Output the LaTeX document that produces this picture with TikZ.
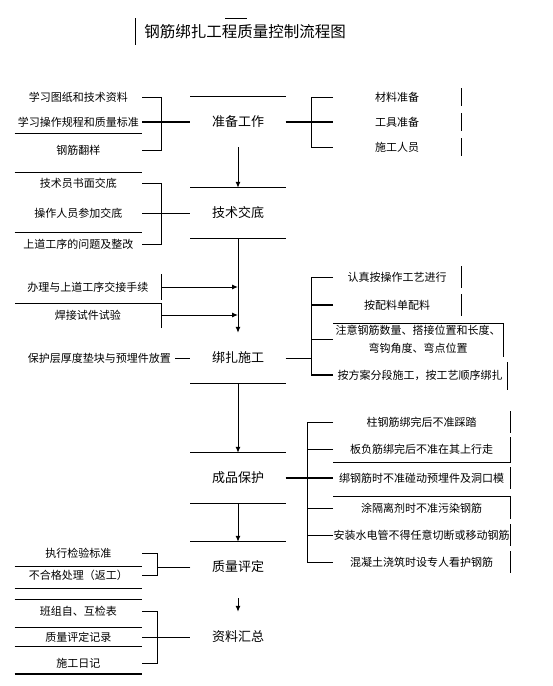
\documentclass[tikz,border=0pt]{standalone}
\usepackage{fontspec}
\setmainfont{Noto Sans CJK SC}
\usetikzlibrary{arrows.meta}

\begin{document}
\begin{tikzpicture}[
    x=1pt, y=-1pt,
    font=\fontsize{11}{13}\selectfont,
    stage/.style={
        minimum width=95pt,
        minimum height=50pt,
        inner sep=0pt,
        font=\fontsize{13}{15}\selectfont
    },
    leftitem/.style={
        anchor=east,
        minimum width=127pt,
        inner sep=0pt
    },
    rightitem/.style={
        anchor=west,
        minimum width=128pt,
        inner sep=0pt,
        align=center
    },
    wideitem/.style={
        rightitem,
        minimum width=177pt
    },
    rule/.style={
        draw,
        line width=0.8pt
    },
    thickrule/.style={
        draw,
        line width=1.6pt
    },
    flow/.style={
        draw,
        line width=1pt,
        -{Latex[length=6pt,width=5pt]}
    }
]
\useasboundingbox (0,0) rectangle (553,686);

% --- Title ---
\node[font=\fontsize{15.5}{17}\selectfont] (title) at (245,32) {钢筋绑扎工程质量控制流程图};
\draw[rule] ([xshift=-5pt,yshift=14pt]title.west) -- ([xshift=-5pt,yshift=-13pt]title.west);
\draw[rule] ([xshift=-20pt,yshift=3pt]title.north) -- ([xshift=2pt,yshift=3pt]title.north);

% --- Main stages (centre column) ---
\node[stage] (prep) at (238,122) {准备工作};
\node[stage] (brief) at (238,213) {技术交底};
\node[stage] (tying) at (238,358) {绑扎施工};
\node[stage] (protect) at (238,478) {成品保护};
\node[stage] (assess) at (238,567) {质量评定};
\node[stage] (archive) at (238,637) {资料汇总};

% visible box edges
\draw[rule] (prep.north west) -- (prep.north east);
\draw[rule] (brief.north west) -- (brief.north east);
\draw[rule] (brief.south west) -- (brief.south east);
\draw[rule] (tying.south west) -- (tying.south east);
\draw[rule] (protect.north west) -- (protect.north east);
\draw[rule] (protect.south west) -- (protect.south east);
\draw[rule] (assess.north west) -- (assess.north east);

% --- Left inputs ---
\node[leftitem] (study) at (142,97) {学习图纸和技术资料};
\node[leftitem] (rules) at (142,122) {学习操作规程和质量标准};
\node[leftitem] (layout) at (142,150) {钢筋翻样};

\node[leftitem] (writBrief) at (142,183) {技术员书面交底};
\node[leftitem] (workBrief) at (142,213) {操作人员参加交底};
\node[leftitem] (prevIssue) at (142,244) {上道工序的问题及整改};

\node[leftitem, minimum width=146pt] (handover) at (161,287) {办理与上道工序交接手续};
\node[leftitem, minimum width=146pt] (weldTest) at (161,315) {焊接试件试验};
\node[anchor=east, inner sep=0pt] (cover) at (171,358) {保护层厚度垫块与预埋件放置};

\node[leftitem] (inspStd) at (142,553) {执行检验标准};
\node[leftitem] (rework) at (142,575) {不合格处理（返工）};

\node[leftitem] (selfCheck) at (142,611) {班组自、互检表};
\node[leftitem] (assessRec) at (142,637) {质量评定记录};
\node[leftitem] (siteLog) at (142,663) {施工日记};

% --- Right measures ---
\node[rightitem] (matPrep) at (333,97) {材料准备};
\node[rightitem] (toolPrep) at (333,122) {工具准备};
\node[rightitem] (staff) at (333,147) {施工人员};

\node[rightitem] (process) at (333,277) {认真按操作工艺进行};
\node[rightitem] (batch) at (333,305) {按配料单配料};
\node[rightitem, minimum width=170pt, font=\fontsize{11}{18}\selectfont] (notice) at (333,339) {注意钢筋数量、搭接位置和长度、\\弯钩角度、弯点位置};
\node[rightitem, minimum width=174pt] (sequence) at (333,375) {按方案分段施工，按工艺顺序绑扎};

\node[wideitem] (column) at (333,422) {柱钢筋绑完后不准踩踏};
\node[wideitem] (slab) at (333,449) {板负筋绑完后不准在其上行走};
\node[wideitem] (embed) at (333,478) {绑钢筋时不准碰动预埋件及洞口模};
\node[wideitem] (release) at (333,508) {涂隔离剂时不准污染钢筋};
\node[wideitem] (pipes) at (333,535) {安装水电管不得任意切断或移动钢筋};
\node[wideitem] (guard) at (333,562) {混凝土浇筑时设专人看护钢筋};

% --- Main flow ---
\draw[flow] (prep) -- (brief);
\draw[flow] (brief) -- (tying);
\draw[flow] (tying) -- (protect);
\draw[flow] (protect) -- (assess);
\draw[flow, shorten <=6pt] (assess) -- (archive);

% --- Preparation ---
\draw[rule] (study.east) -- ++(19,0) |- (layout.east);
\draw[thickrule] (rules.east) -- (prep.west);
\draw[rule] ([yshift=-11pt]rules.west) -- ([yshift=-11pt]rules.east);
\draw[thickrule] (prep.east) -- (toolPrep.west);
\draw[rule] (matPrep.west) -- ++(-22,0) |- (staff.west);
\foreach \n in {matPrep, toolPrep, staff}
    \draw[rule] ([yshift=9pt]\n.east) -- ([yshift=-9pt]\n.east);

% --- Technical briefing ---
\draw[rule] (writBrief.east) -- ++(19,0) |- (prevIssue.east);
\draw[rule] (workBrief.east) -- (brief.west);
\draw[rule] ([yshift=11pt]writBrief.west) -- ([yshift=11pt]writBrief.east);
\draw[rule] ([yshift=12pt]prevIssue.west) -- ([yshift=12pt]prevIssue.east);

% --- Tying ---
\draw[flow] (handover.east) -- (handover.east -| brief.south);
\draw[flow] (weldTest.east) -- (weldTest.east -| brief.south);
\draw[rule] ([yshift=13pt]handover.east) -- ([yshift=-13pt]handover.east);
\draw[rule] ([yshift=-13pt]weldTest.east) -- ([yshift=12pt]weldTest.east) -- ([yshift=12pt]weldTest.west);
\draw[rule, shorten <=4pt] (cover.east) -- (tying.west);

\coordinate (tieBrk) at ([xshift=-22pt]process.west);
\draw[rule] (tying.east) -- (tying.east -| tieBrk);
\draw[rule] (process.west) -- (tieBrk) |- (sequence.west);
\draw[thickrule] (batch.west) -- (batch.west -| tieBrk);
\draw[rule] (notice.west) -- (notice.west -| tieBrk);
\draw[thickrule] (sequence.west) -- (sequence.west -| tieBrk);
\foreach \n in {process, batch}
    \draw[rule] ([yshift=11pt]\n.east) -- ([yshift=-11pt]\n.east);
\draw[rule] ([yshift=16pt]notice.west) -- ([yshift=16pt]notice.east) -- ([yshift=-18pt]notice.east);
\draw[rule] ([yshift=13pt]sequence.east) -- ([yshift=-15pt]sequence.east);

% --- Protection ---
\coordinate (protBrk) at ([xshift=-26pt]column.west);
\draw[thickrule] (protect.east) -- (embed.west);
\draw[rule] (column.west) -- (protBrk) |- (guard.west);
\foreach \n in {slab, release, pipes}
    \draw[rule] (\n.west) -- (\n.west -| protBrk);
\foreach \n in {column, embed, pipes, guard}
    \draw[rule] ([yshift=11pt]\n.east) -- ([yshift=-11pt]\n.east);
\draw[rule] ([yshift=-13pt]slab.west) -- ([yshift=-13pt]slab.east) -- ([yshift=12pt]slab.east);
\draw[rule] ([yshift=-11pt]release.east) -- ([yshift=12pt]release.east) -- ([yshift=12pt]release.west);

% --- Assessment ---
\coordinate (assBrk) at ([xshift=15pt]inspStd.east);
\draw[rule] (inspStd.east) -- (assBrk) |- (rework.east);
\draw[rule] (assess.west) -- (assess.west -| assBrk);
\draw[rule] ([yshift=9pt]rework.west) -- ([yshift=9pt]rework.east);
\draw[rule] ([yshift=-13pt]rework.west) -- ([yshift=-13pt]rework.east);

% --- Records ---
\draw[rule] (selfCheck.east) -- ++(15,0) |- (siteLog.east);
\draw[rule] (assessRec.east) -- (archive.west);
\draw[rule] ([yshift=12pt]selfCheck.west) -- ([yshift=12pt]selfCheck.east);
\draw[rule] ([yshift=10pt]assessRec.west) -- ([yshift=10pt]assessRec.east);
\draw[rule] ([yshift=-9pt]assessRec.west) -- ([yshift=-9pt]assessRec.east);
\draw[thickrule] ([yshift=-11pt]siteLog.west) -- ([yshift=-11pt]siteLog.east);

\end{tikzpicture}
\end{document}
